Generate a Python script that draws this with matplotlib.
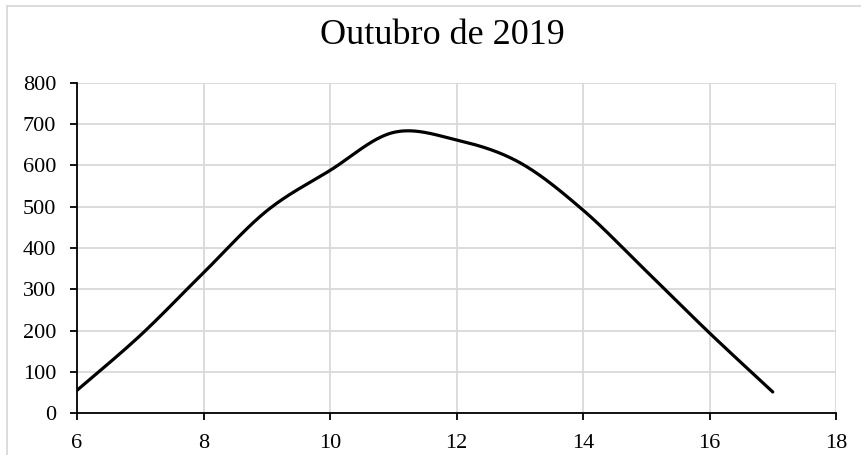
import matplotlib
matplotlib.use("Agg")
import matplotlib.pyplot as plt
from matplotlib.lines import Line2D
import numpy as np

# data (hour of day vs value)
hours = [6, 7, 8, 9, 10, 11, 12, 13, 14, 15, 16, 17]
values = [55, 188, 340, 490, 588, 680, 662, 607, 492, 344, 194, 51]

x_ticks = [6, 8, 10, 12, 14, 16, 18]
y_ticks = [0, 100, 200, 300, 400, 500, 600, 700, 800]
title = "Outubro de 2019"


def smooth_line(xs, ys, n=40):
    # Excel-like smoothed line: cubic bezier with catmull-rom control points
    xs = np.asarray(xs, dtype=float)
    ys = np.asarray(ys, dtype=float)
    px, py = [], []
    for i in range(len(xs) - 1):
        i0 = max(i - 1, 0)
        i3 = min(i + 2, len(xs) - 1)
        p0 = np.array([xs[i], ys[i]])
        p3 = np.array([xs[i + 1], ys[i + 1]])
        p1 = p0 + (p3 - np.array([xs[i0], ys[i0]])) / 6.0
        p2 = p3 - (np.array([xs[i3], ys[i3]]) - p0) / 6.0
        t = np.linspace(0, 1, n)[:, None]
        pts = ((1 - t) ** 3) * p0 + 3 * ((1 - t) ** 2) * t * p1 + 3 * (1 - t) * t ** 2 * p2 + t ** 3 * p3
        px.extend(pts[:, 0])
        py.extend(pts[:, 1])
    return px, py


plt.rcParams['font.family'] = ['Liberation Serif', 'DejaVu Serif']

fig = plt.figure(figsize=(8.61, 4.55), dpi=100)
ax = fig.add_axes([77 / 861, 42 / 455, 759 / 861, 330 / 455])

sx, sy = smooth_line(hours, values)
ax.plot(sx, sy, color="black", linewidth=2.3, solid_capstyle="round", zorder=3)

ax.set_xlim(6, 18)
ax.set_ylim(0, 800)
ax.set_xticks(x_ticks)
ax.set_yticks(y_ticks)
ax.grid(True, color="#d9d9d9", linewidth=1.3, zorder=0)
ax.set_axisbelow(True)

for s in ["top", "right"]:
    ax.spines[s].set_visible(False)
for s in ["left", "bottom"]:
    ax.spines[s].set_color("black")
    ax.spines[s].set_linewidth(1.3)

ax.tick_params(axis="both", direction="out", length=5, width=1.3, color="black",
               labelsize=16)
ax.tick_params(axis="y", pad=10)
ax.tick_params(axis="x", pad=10)
# title sits centred on the chart area, a bit left of the plot centre
fig.text(442 / 861, 1 - 35 / 455, title, fontsize=26, ha="center", va="center")

# chart area border (light grey), only left and top visible
fig.add_artist(Line2D([7 / 861, 7 / 861], [0, 1 - 6 / 455], transform=fig.transFigure,
                      color="#d9d9d9", linewidth=1.3))
fig.add_artist(Line2D([7 / 861, 1], [1 - 6 / 455, 1 - 6 / 455], transform=fig.transFigure,
                      color="#d9d9d9", linewidth=1.3))

fig.savefig("out.png", dpi=100)
